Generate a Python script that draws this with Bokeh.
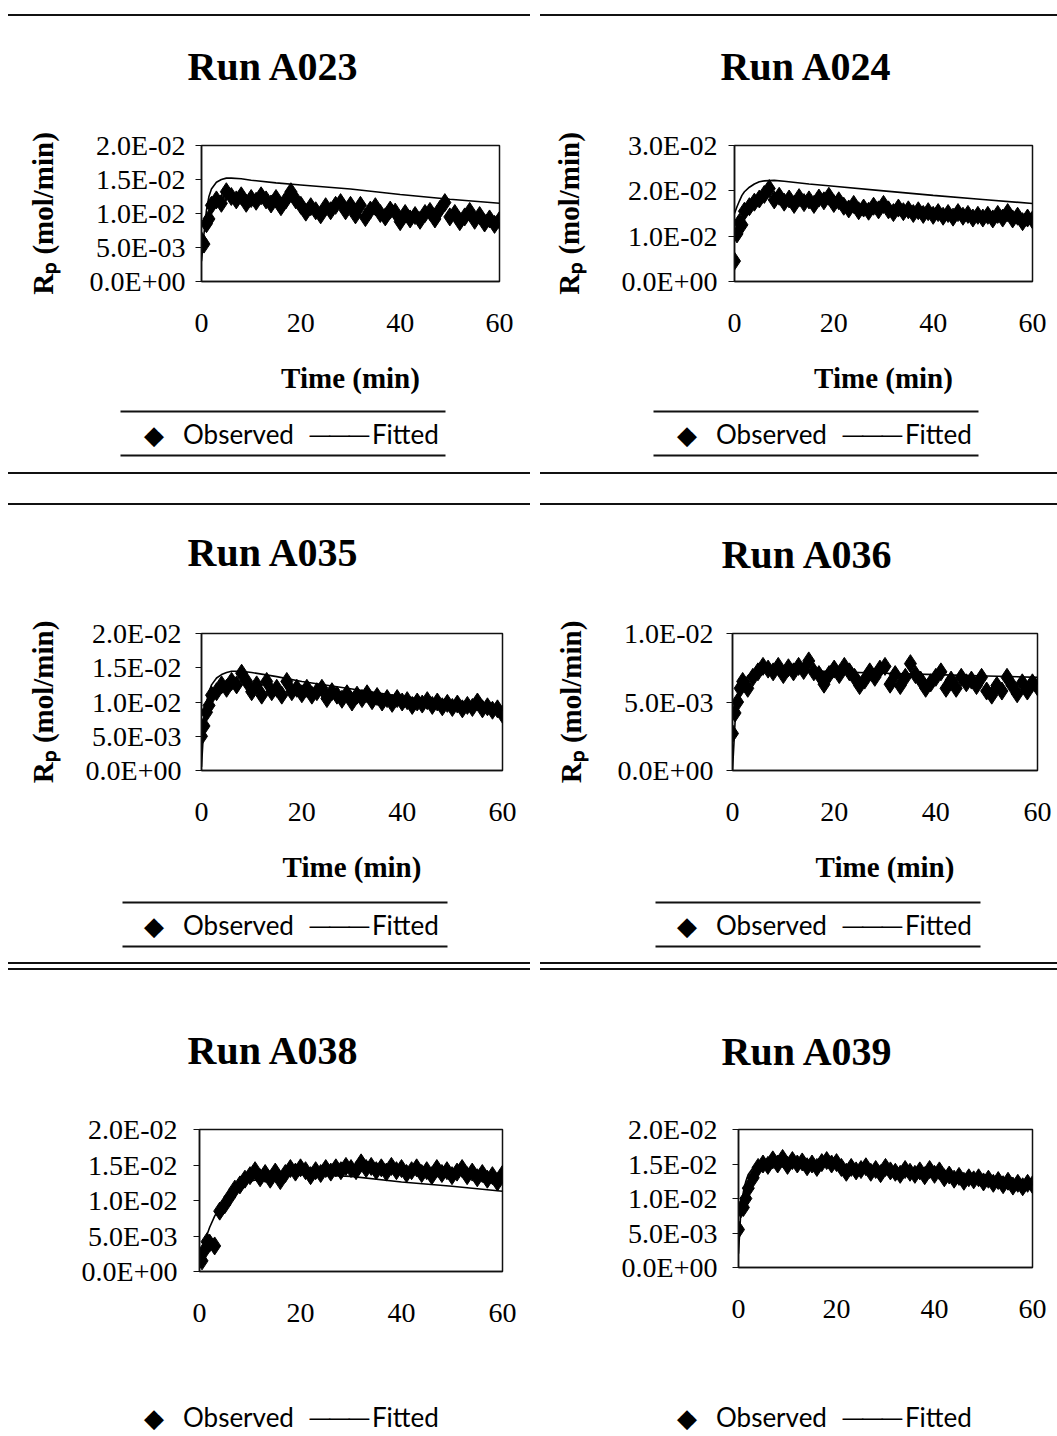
from bokeh.plotting import figure
from bokeh.models import (Range1d, FixedTicker, CustomJSTickFormatter,
                          Title, Div, ColorBar, LinearColorMapper)
from bokeh.layouts import column, row
from bokeh.embed import file_html
from bokeh.resources import INLINE
import numpy as np

# ---------------- data (Rp in units of 1E-02 mol/min) ----------------
T_OBS = [0, 0.5, 1, 1.5, 2,
         3, 4, 5, 6, 7, 8, 9, 10, 11, 12,
         13, 14, 15, 16, 17, 18, 19, 20, 21, 22,
         23, 24, 25, 26, 27, 28, 29, 30, 31, 32,
         33, 34, 35, 36, 37, 38, 39, 40, 41, 42,
         43, 44, 45, 46, 47, 48, 49, 50, 51, 52,
         53, 54, 55, 56, 57, 58, 59, 60]

T_FIT = [0, 0.5, 1, 1.5, 2, 3, 4, 5, 6, 8, 10, 15, 20, 30, 40, 50, 60]

OBS_A023 = [0.60, 0.55, 0.85, 0.92, 1.12,
            1.20, 1.15, 1.32, 1.25, 1.20, 1.26, 1.15, 1.22, 1.18, 1.26,
            1.20, 1.14, 1.22, 1.10, 1.20, 1.32, 1.20, 1.12, 1.02, 1.10,
            1.04, 0.98, 1.10, 1.04, 1.12, 1.16, 1.04, 1.12, 0.98, 1.12,
            0.94, 1.05, 1.10, 1.00, 0.95, 1.05, 1.02, 0.88, 1.00, 0.92,
            0.97, 0.90, 1.00, 1.03, 0.92, 1.06, 1.16, 0.95, 1.00, 0.88,
            0.95, 1.03, 0.90, 0.97, 0.86, 0.92, 0.84, 0.90]
FIT_A023 = [0.30, 0.70, 1.05, 1.25, 1.36, 1.46, 1.50, 1.52, 1.52, 1.51, 1.49,
            1.45, 1.42, 1.36, 1.28, 1.21, 1.15]

OBS_A024 = [0.45, 1.05, 1.30, 1.25, 1.55,
            1.65, 1.75, 1.82, 1.92, 2.05, 1.80, 1.88, 1.75, 1.82, 1.70,
            1.85, 1.74, 1.80, 1.70, 1.84, 1.78, 1.88, 1.72, 1.78, 1.66,
            1.60, 1.70, 1.56, 1.62, 1.55, 1.66, 1.58, 1.70, 1.58, 1.52,
            1.62, 1.54, 1.58, 1.50, 1.56, 1.48, 1.54, 1.46, 1.52, 1.44,
            1.50, 1.42, 1.52, 1.44, 1.48, 1.40, 1.46, 1.40, 1.46, 1.38,
            1.48, 1.40, 1.52, 1.38, 1.44, 1.32, 1.40, 1.36]
FIT_A024 = [1.50, 1.65, 1.78, 1.90, 1.98, 2.08, 2.15, 2.20, 2.22, 2.23, 2.21,
            2.15, 2.10, 2.00, 1.90, 1.81, 1.72]

OBS_A035 = [0.50, 0.65, 0.85, 0.95, 1.10,
            1.15, 1.25, 1.20, 1.30, 1.25, 1.42, 1.30, 1.15, 1.25, 1.10,
            1.30, 1.15, 1.20, 1.10, 1.30, 1.15, 1.20, 1.12, 1.20, 1.10,
            1.15, 1.20, 1.05, 1.15, 1.10, 1.04, 1.12, 1.00, 1.10, 1.05,
            1.12, 1.02, 1.08, 1.00, 1.05, 0.98, 1.05, 1.00, 1.02, 0.95,
            1.00, 0.97, 1.02, 0.95, 1.00, 0.93, 0.98, 0.92, 0.97, 0.90,
            0.95, 0.92, 1.00, 0.90, 0.93, 0.88, 0.90, 0.82]
FIT_A035 = [0.05, 0.70, 1.00, 1.15, 1.25, 1.35, 1.40, 1.43, 1.45, 1.45, 1.43,
            1.37, 1.30, 1.19, 1.08, 0.98, 0.88]

OBS_A036 = [0.27, 0.42, 0.50, 0.60, 0.65,
            0.60, 0.68, 0.72, 0.76, 0.74, 0.72, 0.76, 0.70, 0.75, 0.72,
            0.76, 0.73, 0.80, 0.72, 0.70, 0.63, 0.70, 0.74, 0.70, 0.76,
            0.72, 0.68, 0.62, 0.66, 0.72, 0.68, 0.74, 0.76, 0.63, 0.70,
            0.62, 0.68, 0.78, 0.70, 0.66, 0.60, 0.64, 0.68, 0.72, 0.60,
            0.66, 0.60, 0.68, 0.64, 0.66, 0.62, 0.68, 0.58, 0.55, 0.62,
            0.58, 0.68, 0.62, 0.56, 0.64, 0.58, 0.64, 0.61]
FIT_A036 = [0.00, 0.35, 0.50, 0.58, 0.63, 0.69, 0.72, 0.73, 0.74, 0.74, 0.74,
            0.73, 0.72, 0.71, 0.70, 0.69, 0.68]

OBS_A038 = [0.20, 0.15, 0.30, 0.42, 0.40,
            0.36, 0.85, 0.94, 1.05, 1.16, 1.22, 1.30, 1.35, 1.42, 1.32,
            1.38, 1.30, 1.40, 1.28, 1.38, 1.45, 1.40, 1.46, 1.42, 1.35,
            1.42, 1.38, 1.45, 1.40, 1.46, 1.42, 1.48, 1.45, 1.42, 1.53,
            1.45, 1.48, 1.42, 1.46, 1.40, 1.48, 1.42, 1.45, 1.38, 1.42,
            1.46, 1.38, 1.42, 1.35, 1.45, 1.38, 1.42, 1.35, 1.40, 1.45,
            1.35, 1.40, 1.32, 1.38, 1.30, 1.35, 1.26, 1.37]
FIT_A038 = [0.10, 0.25, 0.40, 0.52, 0.62, 0.78, 0.90, 1.00, 1.08, 1.20, 1.27,
            1.35, 1.37, 1.34, 1.26, 1.20, 1.13]

OBS_A039 = [0.55, 0.85, 0.87, 1.00, 1.15,
            1.30, 1.45, 1.50, 1.48, 1.56, 1.50, 1.58, 1.48, 1.55, 1.50,
            1.53, 1.46, 1.50, 1.45, 1.52, 1.55, 1.50, 1.52, 1.45, 1.38,
            1.45, 1.40, 1.42, 1.46, 1.38, 1.42, 1.36, 1.45, 1.40, 1.38,
            1.35, 1.42, 1.38, 1.35, 1.40, 1.33, 1.42, 1.35, 1.40, 1.30,
            1.34, 1.28, 1.32, 1.25, 1.30, 1.27, 1.30, 1.24, 1.28, 1.22,
            1.26, 1.20, 1.25, 1.18, 1.22, 1.17, 1.22, 1.20]
FIT_A039 = [0.20, 0.85, 1.10, 1.25, 1.35, 1.45, 1.50, 1.52, 1.53, 1.53, 1.52,
            1.50, 1.47, 1.41, 1.34, 1.27, 1.20]

RUNS = ["Run A023", "Run A024", "Run A035", "Run A036", "Run A038", "Run A039"]
OBS = [OBS_A023, OBS_A024, OBS_A035, OBS_A036, OBS_A038, OBS_A039]
FIT = [FIT_A023, FIT_A024, FIT_A035, FIT_A036, FIT_A038, FIT_A039]
Y_TICKS = [[0, 0.005, 0.01, 0.015, 0.02],
           [0, 0.01, 0.02, 0.03],
           [0, 0.005, 0.01, 0.015, 0.02],
           [0, 0.005, 0.01],
           [0, 0.005, 0.01, 0.015, 0.02],
           [0, 0.005, 0.01, 0.015, 0.02]]
X_TICKS = [0, 20, 40, 60]
SERIES = ["Observed", "Fitted"]
SCALE = 1e-2

# ---------------- layout / style ----------------
SERIF = "Liberation Serif"
SANS = "Lato"
INK = "#111111"
MARKER_SIZE = 18
# key line under each chart: diamond marker, series name, line sample, series name
KEY_TEXT = ("\u25c6\u2003" + SERIES[0] + "\u2002\u2009\u2500\u2500\u2500\u2009"
            + SERIES[1])

# per panel: figure size + frame box, text offsets, key block placement
LAYOUT = [
    dict(w=533, h=456, fl=201, ft=129, fw=298, fh=136, toff=-14, gap=65, ylab_so=28,
         ytick_so=10, xlabel=True, ylabel=True, lgap=0, koff=-58, boxed=True),
    dict(w=524, h=456, fl=201, ft=129, fw=298, fh=136, toff=-14, gap=65, ylab_so=34,
         ytick_so=11, xlabel=True, ylabel=True, lgap=0, koff=-58, boxed=True),
    dict(w=533, h=457, fl=201, ft=128, fw=301, fh=137, toff=-14, gap=67, ylab_so=24,
         ytick_so=14, xlabel=True, ylabel=True, lgap=2, koff=-58, boxed=True),
    dict(w=524, h=457, fl=199, ft=128, fw=305, fh=137, toff=-11, gap=65, ylab_so=28,
         ytick_so=13, xlabel=True, ylabel=True, lgap=2, koff=-56, boxed=True),
    dict(w=533, h=466, fl=199, ft=159, fw=303, fh=142, toff=-12, gap=65, ylab_so=20,
         ytick_so=16, xlabel=False, ylabel=False, lgap=61, koff=-56, boxed=False),
    dict(w=524, h=466, fl=205, ft=159, fw=294, fh=138, toff=-17, gap=64, ylab_so=20,
         ytick_so=15, xlabel=False, ylabel=False, lgap=65, koff=-62, boxed=False),
]
RULE_PALETTE = [INK] * 65 + ["white"] * 27   # 5 px cells: 325 px rule + blank tail
RULE_W = 460

EXP_FMT = CustomJSTickFormatter(code="""
const s = tick.toExponential(1).split('e');
let e = parseInt(s[1]);
const sign = e < 0 ? '-' : '+';
e = Math.abs(e);
return s[0] + 'E' + sign + (e < 10 ? '0' : '') + e;
""")


def rule_bar():
    return ColorBar(color_mapper=LinearColorMapper(palette=RULE_PALETTE, low=0,
                                                   high=len(RULE_PALETTE)),
                    orientation="horizontal", location="center",
                    width=RULE_W, height=2, padding=0, margin=0,
                    ticker=FixedTicker(ticks=[]), label_standoff=0,
                    major_label_text_font_size="1px", major_label_text_alpha=0,
                    major_tick_line_color=None, minor_tick_line_color=None,
                    bar_line_color=None, border_line_color=None,
                    background_fill_alpha=0)


def chart(i):
    L = LAYOUT[i]
    p = figure(frame_width=L["fw"], frame_height=L["fh"],
               min_border_left=L["fl"], min_border_top=L["ft"],
               min_border_right=L["w"] - L["fl"] - L["fw"],
               min_border_bottom=L["h"] - L["ft"] - L["fh"],
               x_range=Range1d(0, 60), y_range=Range1d(0, Y_TICKS[i][-1]),
               output_backend="svg", toolbar_location=None, title=None,
               background_fill_color="white", border_fill_color="white",
               outline_line_color=INK, outline_line_width=1.5)
    p.xgrid.visible = False
    p.ygrid.visible = False

    # spacer (closest to the frame) then the run title
    p.add_layout(Title(text=" ", text_font=SERIF, text_font_size="40px",
                       standoff=L["gap"] - 60), "above")
    p.add_layout(Title(text=RUNS[i], align="left", offset=L["toff"], standoff=10,
                       text_font=SERIF, text_font_size="40px",
                       text_font_style="bold", text_color="black"), "above")

    p.yaxis.ticker = FixedTicker(ticks=Y_TICKS[i])
    p.yaxis.formatter = EXP_FMT
    p.xaxis.ticker = FixedTicker(ticks=X_TICKS)

    for ax in (p.xaxis[0], p.yaxis[0]):
        ax.axis_line_color = INK
        ax.axis_line_width = 1.5
        ax.major_label_text_font = SERIF
        ax.major_label_text_font_size = "28px"
        ax.major_label_text_color = "black"
        ax.minor_tick_line_color = None
        ax.axis_label_text_font = SERIF
        ax.axis_label_text_font_size = "29px"
        ax.axis_label_text_font_style = "bold"
        ax.axis_label_text_color = "black"
    p.yaxis.major_tick_out = 6
    p.yaxis.major_tick_in = 0
    p.yaxis.major_tick_line_color = INK
    p.yaxis.major_label_standoff = L["ytick_so"]
    p.xaxis.major_tick_out = 0
    p.xaxis.major_tick_in = 0
    p.xaxis.major_label_standoff = 32
    if L["xlabel"]:
        p.xaxis.axis_label = "Time (min)"
        p.xaxis.axis_label_standoff = 27
    if L["ylabel"]:
        p.yaxis.axis_label = "R\u209a (mol/min)"
        p.yaxis.axis_label_standoff = L["ylab_so"]

    y_obs = np.array(OBS[i]) * SCALE
    y_fit = np.array(FIT[i]) * SCALE
    p.scatter(T_OBS, y_obs, marker="diamond", size=MARKER_SIZE,
              fill_color="black", line_color="black")
    p.line(T_FIT, y_fit, line_color="black", line_width=1.6)

    # key block under the x axis: gap, rule, key line, rule
    p.add_layout(Title(text=" ", text_font=SANS, text_font_size="10px",
                       standoff=L["lgap"]), "below")
    if L["boxed"]:
        p.add_layout(rule_bar(), "below")
    p.add_layout(Title(text=KEY_TEXT, align="left", offset=L["koff"],
                       vertical_align="middle", standoff=8 if L["boxed"] else 0,
                       text_font=SANS, text_font_size="26px",
                       text_font_style="normal", text_color="black"), "below")
    if L["boxed"]:
        p.add_layout(rule_bar(), "below")
    return p


def rule_row(top):
    return row(Div(text="", width=522, height=2, margin=(top, 0, 0, 8),
                   styles={"background-color": INK}),
               Div(text="", width=517, height=2, margin=(top, 0, 0, 10),
                   styles={"background-color": INK}))


figs = [chart(i) for i in range(6)]
layout = column(rule_row(14),
                row(figs[0], figs[1]),
                rule_row(0), rule_row(29),
                row(figs[2], figs[3]),
                rule_row(0), rule_row(4),
                row(figs[4], figs[5]))

open("out.html", "w").write(file_html(layout, INLINE))
